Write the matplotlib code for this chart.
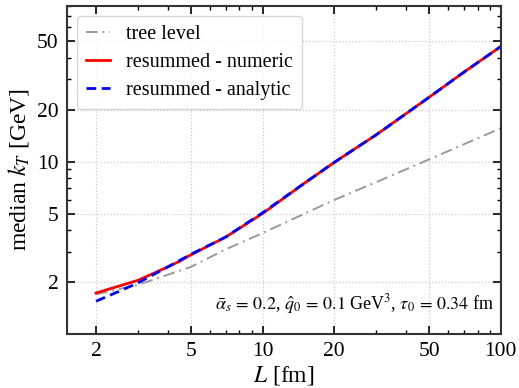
import numpy as np
import matplotlib
matplotlib.use('Agg')
import matplotlib.pyplot as plt
from matplotlib.ticker import FixedLocator, NullFormatter, LogLocator

plt.rcParams['font.family'] = ['Liberation Serif', 'DejaVu Serif']
plt.rcParams['mathtext.fontset'] = 'stix'

# values
L_tree = [2, 3, 5, 7, 10, 20, 30, 50, 100]
kt_tree = [1.70, 1.93, 2.45, 3.1, 3.85, 6.0, 7.6, 10.3, 15.6]

L_num = [2, 3, 4, 4.5, 5, 7, 10, 15, 20, 30, 50, 70, 100]
kt_num = [1.73, 2.05, 2.45, 2.65, 2.88, 3.65, 5.0, 7.5, 9.9, 14.3, 23.6, 33.0, 46.5]

L_ana = [2, 2.5, 3, 4, 5, 7, 10, 15, 20, 30, 50, 70, 100]
kt_ana = [1.55, 1.77, 1.98, 2.45, 2.9, 3.65, 5.05, 7.5, 9.9, 14.3, 23.6, 33.0, 46.5]

xticks = [2, 5, 10, 20, 50, 100]
yticks = [2, 5, 10, 20, 50]

fig = plt.figure(figsize=(5.19, 3.88), dpi=100)
ax = fig.add_axes([0.129, 0.139, 0.836, 0.846])

ax.plot(L_tree, kt_tree, color='#999999', ls=(0, (6, 2.5, 1, 2.5)), lw=1.4, label='tree level')
ax.plot(L_num, kt_num, color='red', ls='-', lw=2.0, label='resummed - numeric')
ax.plot(L_ana, kt_ana, color='blue', ls=(0, (3.5, 2)), lw=2.0, label='resummed - analytic')

ax.set_xscale('log')
ax.set_yscale('log')
ax.set_xlim(1.51, 100)
ax.set_ylim(1.0, 80)

ax.xaxis.set_major_locator(FixedLocator(xticks))
ax.set_xticklabels([str(t) for t in xticks])
ax.yaxis.set_major_locator(FixedLocator(yticks))
ax.set_yticklabels([str(t) for t in yticks])
ax.xaxis.set_minor_locator(LogLocator(base=10, subs=np.arange(2, 10)))
ax.yaxis.set_minor_locator(LogLocator(base=10, subs=np.arange(2, 10)))
ax.xaxis.set_minor_formatter(NullFormatter())
ax.yaxis.set_minor_formatter(NullFormatter())

ax.tick_params(which='both', direction='in', top=True, right=True, labelsize=15.5)
ax.tick_params(which='major', length=6, width=1.2, pad=6)
ax.tick_params(which='minor', length=3, width=1.0)
for s in ax.spines.values():
    s.set_linewidth(1.5)
    s.set_color('#333333')

ax.grid(True, which='major', ls=':', color='#cccccc', lw=0.9)

ax.set_xlabel(r'$L$ [fm]', fontsize=17, labelpad=2)
ax.set_ylabel(r'median $k_T$ [GeV]', fontsize=17, labelpad=4)

ax.legend(loc='upper left', fontsize=14.5, frameon=True, fancybox=True,
          edgecolor='#cccccc', handlelength=1.2, handletextpad=0.8,
          borderpad=0.45, labelspacing=0.45)

ax.text(0.985, 0.055,
        r'$\bar{\alpha}_s\,=\,0.2$, $\hat{q}_0\,=\,0.1$ GeV$^3$, $\tau_0\,=\,0.34$ fm',
        transform=ax.transAxes, ha='right', va='bottom', fontsize=13)

fig.savefig('out.png', dpi=100)
